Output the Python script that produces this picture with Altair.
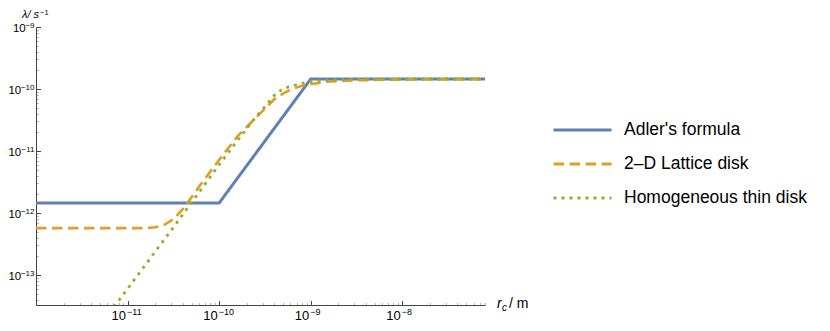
import altair as alt
import pandas as pd

# ---------------- data ----------------
series_names = ["Adler's formula", "2–D Lattice disk", "Homogeneous thin disk"]
series_colors = ["#5E81B5", "#E19C24", "#8FB032"]

adler_r = [1e-12, 1e-10, 1e-9, 8e-8]
adler_lam = [1.45e-12, 1.45e-12, 1.45e-10, 1.45e-10]

lattice_r = [1e-12, 1e-11, 1.6e-11, 2e-11, 2.5e-11, 3.2e-11, 4e-11, 5e-11, 6.3e-11,
             1e-10, 1.6e-10, 2.5e-10, 3.2e-10, 4e-10, 5e-10, 6.3e-10, 7.9e-10,
             1e-9, 1.6e-9, 3.2e-9, 1e-8, 8e-8]
lattice_lam = [5.7e-13, 5.7e-13, 5.7e-13, 5.9e-13, 6.4e-13, 8e-13, 1.15e-12, 1.8e-12, 2.9e-12,
               7.2e-12, 1.75e-11, 3.4e-11, 4.9e-11, 6.8e-11, 8.5e-11, 1.0e-10, 1.12e-10,
               1.2e-10, 1.32e-10, 1.38e-10, 1.43e-10, 1.45e-10]

thin_r = [6.3e-12, 1e-11, 3.2e-11, 1e-10, 1.6e-10, 2.5e-10, 3.2e-10, 4e-10, 5e-10,
          6.3e-10, 7.9e-10, 1e-9, 1.6e-9, 3.2e-9, 1e-8, 8e-8]
thin_lam = [2.4e-14, 6e-14, 6e-13, 6e-12, 1.5e-11, 3.5e-11, 5.3e-11, 7.9e-11, 1.02e-10,
            1.12e-10, 1.23e-10, 1.32e-10, 1.4e-10, 1.44e-10, 1.45e-10, 1.45e-10]

x_domain = [1e-12, 8e-8]
y_domain = [3.28e-14, 1e-9]

# tick labels: base "10" with an exponent
x_label_values = [1e-11, 1e-10, 1e-9, 1e-8]
x_label_exps = ["−11", "−10", "−9", "−8"]
y_label_values = [1e-13, 1e-12, 1e-11, 1e-10, 1e-9]
y_label_exps = ["−13", "−12", "−11", "−10", "−9"]

rows = []
for name, rs, ls in zip(series_names, [adler_r, lattice_r, thin_r], [adler_lam, lattice_lam, thin_lam]):
    for i, (r, l) in enumerate(zip(rs, ls)):
        rows.append({"series": name, "r": r, "lam": l, "i": i})
df = pd.DataFrame(rows)
xlab = pd.DataFrame({"r": x_label_values, "exp": x_label_exps})
ylab = pd.DataFrame({"lam": y_label_values, "exp": y_label_exps})
one = pd.DataFrame({"k": [0]})


# ---------------- axes ----------------
def ticks_in(lo, hi):
    out = []
    for e in range(-15, -5):
        for m in range(1, 10):
            v = m * 10.0 ** e
            if lo * (1 - 1e-9) <= v <= hi * (1 + 1e-9):
                out.append(v)
    return out


IS_DEC = "abs(log(datum.value)/LN10 - round(log(datum.value)/LN10)) < 1e-6"
AXIS_COLOR = "#444444"
FONT = "Liberation Sans"


def make_axis(values):
    return alt.Axis(
        values=values,
        labels=False,
        title=None,
        grid=False,
        domainColor=AXIS_COLOR,
        domainWidth=1,
        tickColor=alt.ExprRef(f"{IS_DEC} ? '{AXIS_COLOR}' : '#b8b8b8'"),
        tickSize=alt.ExprRef(f"{IS_DEC} ? -4.5 : -2.5"),
        tickWidth=1,
    )


x_enc = alt.X("r:Q", scale=alt.Scale(type="log", domain=x_domain, nice=False),
              axis=make_axis(ticks_in(*x_domain)))
y_enc = alt.Y("lam:Q", scale=alt.Scale(type="log", domain=y_domain, nice=False),
              axis=make_axis(ticks_in(*y_domain)))

color = alt.Color(
    "series:N",
    scale=alt.Scale(domain=series_names, range=series_colors),
    legend=alt.Legend(
        title=None,
        orient="none",
        legendX=516,
        legendY=88,
        symbolType="stroke",
        symbolSize=3364,
        symbolStrokeWidth=3,
        labelFont=FONT,
        labelFontSize=17.5,
        labelColor="black",
        labelOffset=11,
        clipHeight=30,
        rowPadding=4,
        labelLimit=400,
    ),
)
dash = alt.StrokeDash(
    "series:N",
    scale=alt.Scale(domain=series_names, range=[[1, 0], [10.5, 5.5], [3, 5]]),
    legend=None,
)

base = alt.Chart(df).encode(x=x_enc, y=y_enc, order="i:Q", color=color, strokeDash=dash)

widths = [3, 2.6, 2.8]
layers = [
    base.transform_filter(alt.datum.series == name).mark_line(clip=True, strokeWidth=w, strokeCap="butt")
    for name, w in zip(series_names, widths)
]

# ---------------- tick labels ----------------
txt = dict(font=FONT, color="black")
x_tens = alt.Chart(xlab).mark_text(text="10", fontSize=13, align="right", baseline="alphabetic",
                                   dx=-1.5, **txt).encode(x=x_enc, y=alt.value(293))
x_exps = alt.Chart(xlab).mark_text(fontSize=9, align="left", baseline="alphabetic",
                                   dx=-0.5, **txt).encode(x=x_enc, y=alt.value(287.5), text="exp:N")

y_exps = alt.Chart(ylab).mark_text(fontSize=8, align="right", baseline="alphabetic",
                                   dy=0.8, **txt).encode(y=y_enc, x=alt.value(-1.5), text="exp:N")
y_tens2 = alt.Chart(ylab).transform_filter("length(datum.exp) == 3").mark_text(
    text="10", fontSize=11.5, align="right", baseline="alphabetic", dy=5.2, **txt
).encode(y=y_enc, x=alt.value(-14.8))
y_tens1 = alt.Chart(ylab).transform_filter("length(datum.exp) == 2").mark_text(
    text="10", fontSize=11.5, align="right", baseline="alphabetic", dy=5.2, **txt
).encode(y=y_enc, x=alt.value(-10.3))

# ---------------- axis titles ----------------
y_title = [
    alt.Chart(one).mark_text(text="λ/ s", fontSize=11, fontStyle="italic", align="left",
                             baseline="alphabetic", **txt).encode(x=alt.value(-14), y=alt.value(-9)),
    alt.Chart(one).mark_text(text="−1", fontSize=7.5, align="left",
                             baseline="alphabetic", **txt).encode(x=alt.value(4), y=alt.value(-12)),
]
x_title = [
    alt.Chart(one).mark_text(text="r", fontSize=14, fontStyle="italic", align="left",
                             baseline="alphabetic", **txt).encode(x=alt.value(461), y=alt.value(281)),
    alt.Chart(one).mark_text(text="c", fontSize=10, fontStyle="italic", align="left",
                             baseline="alphabetic", **txt).encode(x=alt.value(466), y=alt.value(284)),
    alt.Chart(one).mark_text(text="/ m", fontSize=14, align="left",
                             baseline="alphabetic", **txt).encode(x=alt.value(473), y=alt.value(281)),
]

chart = alt.layer(
    *layers, x_tens, x_exps, y_exps, y_tens2, y_tens1, *y_title, *x_title
).properties(
    width=449,
    height=278,
    autosize=alt.AutoSizeParams(type="none"),
    padding={"left": 28, "top": 19, "right": 337, "bottom": 18},
).configure(background="white").configure_view(stroke=None)

chart.save("out.html", embed_options={"renderer": "svg", "actions": False})
